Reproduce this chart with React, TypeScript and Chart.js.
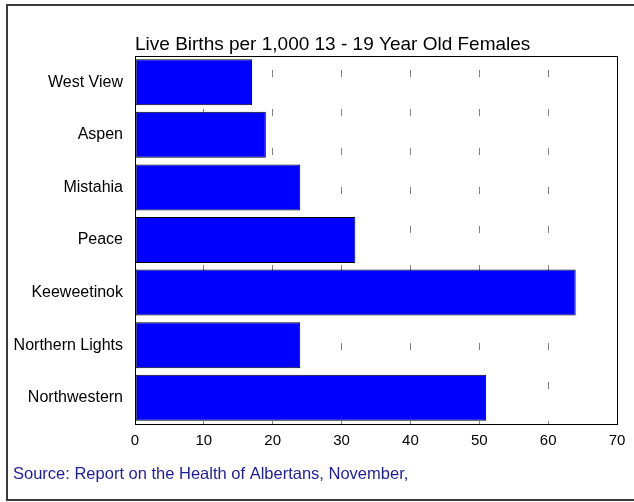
import React, { useEffect, useRef } from "react";
import { Chart, registerables } from "chart.js";

Chart.register(...registerables);

const categories = [
  "West View",
  "Aspen",
  "Mistahia",
  "Peace",
  "Keeweetinok",
  "Northern Lights",
  "Northwestern",
];
const values = [17, 19, 24, 32, 64, 24, 51];
const titleText = "Live Births per 1,000 13 - 19 Year Old Females";
const sourceText = "Source: Report on the Health of Albertans, November,";
const xMin = 0;
const xMax = 70;
const xStep = 10;

const FONT = "'Liberation Sans', Arial, sans-serif";

const decorPlugin = {
  id: "decor",
  afterDraw(chart: any) {
    const ctx = chart.ctx;
    const a = chart.chartArea;
    ctx.save();
    // plot frame
    ctx.strokeStyle = "#000";
    ctx.lineWidth = 1;
    ctx.beginPath();
    ctx.moveTo(Math.round(a.left) + 0.5, Math.round(a.top) + 0.5);
    ctx.lineTo(Math.round(a.right) + 0.5, Math.round(a.top) + 0.5);
    ctx.lineTo(Math.round(a.right) + 0.5, Math.round(a.bottom) + 0.5);
    ctx.stroke();
    // outer border
    ctx.strokeStyle = "#3a3a3a";
    ctx.lineWidth = 2;
    ctx.strokeRect(7, 5, 700, 495);
    // title
    ctx.fillStyle = "#000";
    ctx.font = `19px ${FONT}`;
    ctx.textAlign = "left";
    ctx.textBaseline = "middle";
    ctx.fillText(titleText, a.left, 45);
    // source
    ctx.fillStyle = "#1e1e9a";
    ctx.font = `16.5px ${FONT}`;
    ctx.fillText(sourceText, 13, 474);
    ctx.restore();
  },
};

export default function App() {
  const ref = useRef<HTMLCanvasElement | null>(null);
  useEffect(() => {
    document.body.style.margin = "0";
    if (!ref.current) return;
    const chart = new Chart(ref.current, {
      type: "bar",
      data: {
        labels: categories,
        datasets: [
          {
            data: values,
            backgroundColor: "#0000ff",
            borderColor: "#000000",
            borderWidth: 1,
            borderSkipped: false,
            barPercentage: 0.875,
            categoryPercentage: 1,
          },
        ],
      },
      options: {
        indexAxis: "y",
        responsive: false,
        animation: false,
        events: [],
        layout: { padding: { left: 0, top: 56, right: 17, bottom: 0 } },
        plugins: {
          legend: { display: false },
          tooltip: { enabled: false },
          title: { display: false },
        },
        scales: {
          x: {
            type: "linear",
            min: xMin,
            max: xMax,
            ticks: {
              stepSize: xStep,
              color: "#000",
              font: { family: FONT, size: 15 },
              padding: 8,
            },
            grid: {
              color: "#808080",
              lineWidth: 1,
              drawTicks: false,
            },
            border: {
              display: true,
              color: "#000",
              width: 1,
              dash: [7, 32],
              dashOffset: 25,
            },
            afterFit(scale: any) {
              scale.height = 78;
            },
          },
          y: {
            ticks: {
              color: "#000",
              font: { family: FONT, size: 16 },
              padding: 12,
            },
            grid: { display: false, drawTicks: false },
            border: { display: true, color: "#000", width: 1 },
            afterFit(scale: any) {
              scale.width = 135;
            },
          },
        },
      },
      plugins: [decorPlugin],
    });
    return () => chart.destroy();
  }, []);
  return (
    <div style={{ width: 634, height: 502, background: "#fff" }}>
      <canvas ref={ref} width={634} height={502} style={{ display: "block" }} />
    </div>
  );
}
